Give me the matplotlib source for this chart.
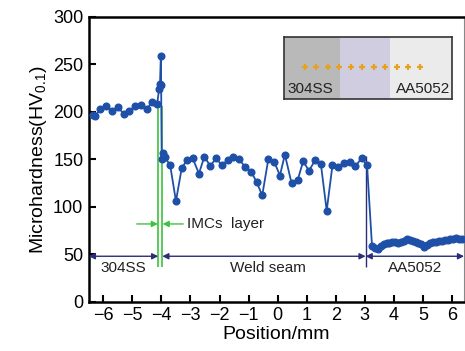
import numpy as np
import matplotlib
matplotlib.use("Agg")
import matplotlib.pyplot as plt

plt.rcParams['font.family'] = ['Liberation Sans', 'DejaVu Sans']

# hardness profile across the joint (position in mm, HV0.1)
pos_ss = [-6.37, -6.27, -6.10, -5.90, -5.70, -5.50, -5.30, -5.10, -4.90, -4.70,
          -4.50, -4.33, -4.15, -4.08, -4.05, -4.02, -4.01]
hv_ss = [197, 196, 203, 206, 201, 205, 198, 201, 206, 207,
         203, 210, 208, 224, 229, 259, 228]

pos_weld = [-3.99, -3.95, -3.88, -3.70, -3.50, -3.30, -3.12, -2.92, -2.71, -2.52,
            -2.32, -2.12, -1.92, -1.71, -1.52, -1.32, -1.12, -0.91, -0.72, -0.53,
            -0.32, -0.11, 0.08, 0.25, 0.48, 0.69, 0.88, 1.08, 1.29, 1.49,
            1.69, 1.89, 2.09, 2.28, 2.49, 2.68, 2.89, 3.08]
hv_weld = [150, 157, 152, 144, 106, 141, 149, 151, 135, 153,
           143, 151, 144, 149, 153, 150, 142, 137, 126, 112,
           150, 147, 133, 155, 125, 128, 148, 138, 149, 145,
           96, 144, 142, 146, 147, 143, 151, 144]

pos_al = [3.25, 3.35, 3.45, 3.55, 3.65, 3.75, 3.85, 3.95, 4.05, 4.15,
          4.25, 4.35, 4.45, 4.55, 4.65, 4.75, 4.85, 4.95, 5.05, 5.15,
          5.25, 5.35, 5.45, 5.55, 5.65, 5.75, 5.85, 5.95, 6.05, 6.15,
          6.25, 6.35]
hv_al = [59, 57, 56, 59, 61, 62, 62, 63, 63, 62,
         63, 64, 66, 65, 64, 63, 62, 61, 58, 60,
         62, 63, 63, 64, 64, 65, 65, 66, 66, 67,
         66, 66]

# zone boundaries (mm)
imc_left, imc_right = -4.11, -3.97
weld_end = 3.03
x_min, x_max = -6.5, 6.42

xticks = [-6, -5, -4, -3, -2, -1, 0, 1, 2, 3, 4, 5, 6]
yticks = [0, 50, 100, 150, 200, 250, 300]

blue = '#1f50a8'
navy = '#2b2d7a'
green = '#3cc43c'

fig = plt.figure(figsize=(4.65, 3.51), dpi=100)
ax = fig.add_axes([0.191, 0.140, 0.807, 0.812])

x_all = pos_ss + pos_weld + pos_al
y_all = hv_ss + hv_weld + hv_al
ax.plot(x_all, y_all, '-o', color=blue, lw=1.3, ms=4.8, zorder=3)

# boundary lines
ax.vlines([imc_left, imc_right], 37, 206, color=green, lw=1.2, zorder=2)
ax.vlines(weld_end, 37, 154, color=navy, lw=1.0, zorder=2)

# zone arrows
arr = dict(arrowstyle='<|-|>', color=navy, lw=1.0, mutation_scale=9, shrinkA=0, shrinkB=0)
ax.annotate('', xy=(x_min, 48), xytext=(imc_left, 48), arrowprops=arr)
ax.annotate('', xy=(imc_right, 48), xytext=(weld_end, 48), arrowprops=arr)
ax.annotate('', xy=(weld_end, 48), xytext=(x_max, 48), arrowprops=arr)
ax.text(-5.3, 43, '304SS', ha='center', va='top', fontsize=11, color='#222222')
ax.text(-0.35, 43, 'Weld seam', ha='center', va='top', fontsize=11, color='#222222')
ax.text(4.75, 43, 'AA5052', ha='center', va='top', fontsize=11, color='#222222')

# IMCs layer arrows
garr = dict(arrowstyle='-|>', color=green, lw=1.0, mutation_scale=9, shrinkA=0, shrinkB=0)
ax.annotate('', xy=(imc_left - 0.01, 82), xytext=(-4.85, 82), arrowprops=garr)
ax.annotate('', xy=(imc_right + 0.01, 82), xytext=(-3.25, 82), arrowprops=garr)
ax.text(-3.12, 82, 'IMCs  layer', ha='left', va='center', fontsize=11, color='#222222')

ax.set_xlim(x_min, x_max)
ax.set_ylim(0, 300)
ax.set_xticks(xticks)
ax.set_yticks(yticks)
ax.set_xticklabels(['\u2212%d' % -t if t < 0 else str(t) for t in xticks])
ax.tick_params(direction='in', length=5, width=1.5, labelsize=13, pad=4)
ax.set_xlabel('Position/mm', fontsize=14, labelpad=1)
ax.set_ylabel('Microhardness(HV$_{\\mathregular{0.1}}$)', fontsize=14, labelpad=3)
for side in ['left', 'bottom', 'top']:
    ax.spines[side].set_linewidth(1.8)
ax.spines['right'].set_linewidth(0.8)
ax.spines['right'].set_color('#888888')

# inset sketch of the joint with indent positions
ins = ax.inset_axes([0.52, 0.712, 0.447, 0.216])
ins.set_xlim(0, 1)
ins.set_ylim(0, 1)
ins.axvspan(0, 0.335, color='#b9b9b9', lw=0)
ins.axvspan(0.335, 0.63, color='#d1cde0', lw=0)
ins.axvspan(0.63, 1, color='#ebebeb', lw=0)
ins.plot(np.linspace(0.125, 0.81, 11), [0.52] * 11, '+', color='#e8a020', ms=5, mew=1.6)
ins.text(0.02, 0.05, '304SS', ha='left', va='bottom', fontsize=11, color='#222222')
ins.text(0.99, 0.05, 'AA5052', ha='right', va='bottom', fontsize=11, color='#222222')
ins.set_xticks([])
ins.set_yticks([])
for s in ins.spines.values():
    s.set_linewidth(1.2)
    s.set_color('#333333')

fig.savefig('out.png', dpi=100)
